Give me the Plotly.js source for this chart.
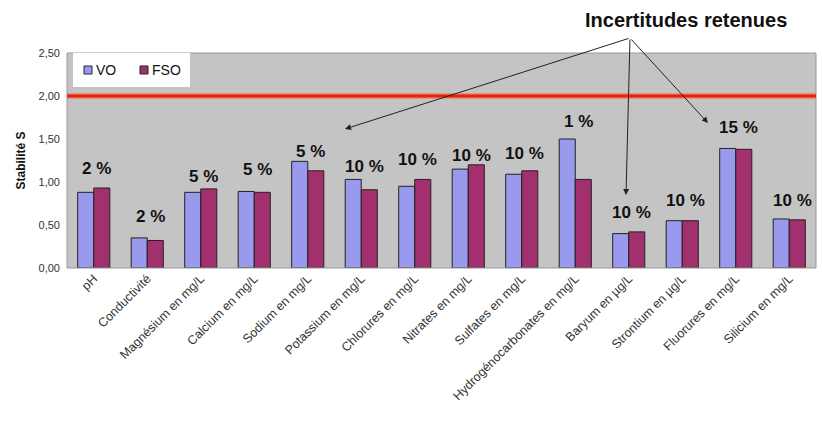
<!DOCTYPE html>
<html><head><meta charset="utf-8">
<script src="https://cdn.plot.ly/plotly-3.0.1.min.js"></script>
<style>body{margin:0;background:#fff}#c{width:822px;height:427px}</style>
</head><body><div id="c"></div>
<script>
const categories = ["pH","Conductivité","Magnésium en mg/L","Calcium en mg/L","Sodium en mg/L","Potassium en mg/L","Chlorures en mg/L","Nitrates en mg/L","Sulfates en mg/L","Hydrogénocarbonates en mg/L","Baryum en µg/L","Strontium en µg/L","Fluorures en mg/L","Silicium en mg/L"];
const vo  = [0.88,0.35,0.88,0.89,1.24,1.03,0.95,1.15,1.09,1.50,0.40,0.55,1.39,0.57];
const fso = [0.93,0.32,0.92,0.88,1.13,0.91,1.03,1.20,1.13,1.03,0.42,0.55,1.38,0.56];
const uncertainty = ["2 %","2 %","5 %","5 %","5 %","10 %","10 %","10 %","10 %","1 %","10 %","10 %","15 %","10 %"];
const labelHeights = [1.16,0.60,1.06,1.15,1.35,1.18,1.26,1.31,1.33,1.70,0.64,0.79,1.63,0.79];
const seriesNames = ["VO","FSO"];
const seriesColors = ["#9999ee","#a3306e"];
const limit = 2.0;

// plot-area pixel geometry
const L=67, R=816, T=53, B=268;
const px = x => (x-L)/(R-L), py = y => (B-y)/(B-T);
const FONT = 'Liberation Sans, Arial';

const annotations = categories.map((c,i)=>({
  x:c, y:labelHeights[i], xref:'x', yref:'y', text:'<b>'+uncertainty[i]+'</b>',
  showarrow:false, font:{family:FONT, size:17, color:'#111'}, xshift:3
}));
annotations.push({xref:'paper', yref:'paper', x:px(686), y:py(20), xanchor:'center', yanchor:'middle',
  text:'<b>Incertitudes retenues</b>', showarrow:false, font:{family:FONT, size:20, color:'#111'}});
const tail=[630,38];
[[345,129],[626,195],[708,123]].forEach(h=>{
  annotations.push({xref:'paper', yref:'paper', x:px(h[0]), y:py(h[1]), ax:tail[0]-h[0], ay:tail[1]-h[1],
    axref:'pixel', ayref:'pixel', text:'', showarrow:true, arrowhead:2, arrowsize:1.2, arrowwidth:1, arrowcolor:'#222'});
});

// custom legend (compact, like the original)
const shapes = [
  {type:'rect', xref:'paper', yref:'paper', x0:0, x1:1, y0:0, y1:1, line:{color:'#999', width:1}},
  {type:'line', xref:'paper', yref:'y', x0:0, x1:1, y0:limit, y1:limit, line:{color:'#f06a3a', width:5}},
  {type:'line', xref:'paper', yref:'y', x0:0, x1:1, y0:limit, y1:limit, line:{color:'#e3201b', width:2.5}},
  {type:'rect', xref:'paper', yref:'paper', x0:px(73), x1:px(190), y0:py(87), y1:py(53), fillcolor:'#fff', line:{width:0}, layer:'above'}
];
const legX = [84, 140];
seriesNames.forEach((n,i)=>{
  shapes.push({type:'rect', xref:'paper', yref:'paper', x0:px(legX[i]), x1:px(legX[i]+8), y0:py(74), y1:py(66),
    fillcolor:seriesColors[i], line:{color:'#222', width:1}, layer:'above'});
  annotations.push({xref:'paper', yref:'paper', x:px(legX[i]+10), y:py(70), xanchor:'left', yanchor:'middle',
    text:n, showarrow:false, font:{family:FONT, size:14, color:'#111'}});
});

const data = seriesNames.map((n,i)=>({type:'bar', name:n, x:categories, y:[vo,fso][i],
  marker:{color:seriesColors[i], line:{color:'#222', width:1}}}));

const layout = {
  width:822, height:427, margin:{l:L, r:822-R, t:T, b:427-B},
  paper_bgcolor:'#fff', plot_bgcolor:'#c4c4c4',
  barmode:'group', bargap:0.4, bargroupgap:0,
  separators:',.',
  font:{family:FONT, color:'#222'},
  showlegend:false,
  xaxis:{tickangle:-45, tickfont:{size:12.5, color:'#333'}, showgrid:false, showline:false, ticks:'', fixedrange:true},
  yaxis:{range:[0,2.5], tickvals:[0,0.5,1,1.5,2,2.5], tickformat:'.2f', tickfont:{size:11, color:'#333'},
    showgrid:false, zeroline:false, showline:false, ticks:'', ticklabelstandoff:6,
    title:{text:'<b>Stabilité S</b>', font:{size:12, color:'#111'}, standoff:10}},
  shapes,
  annotations
};
Plotly.newPlot('c', data, layout, {displayModeBar:false, staticPlot:true});
</script></body></html>
